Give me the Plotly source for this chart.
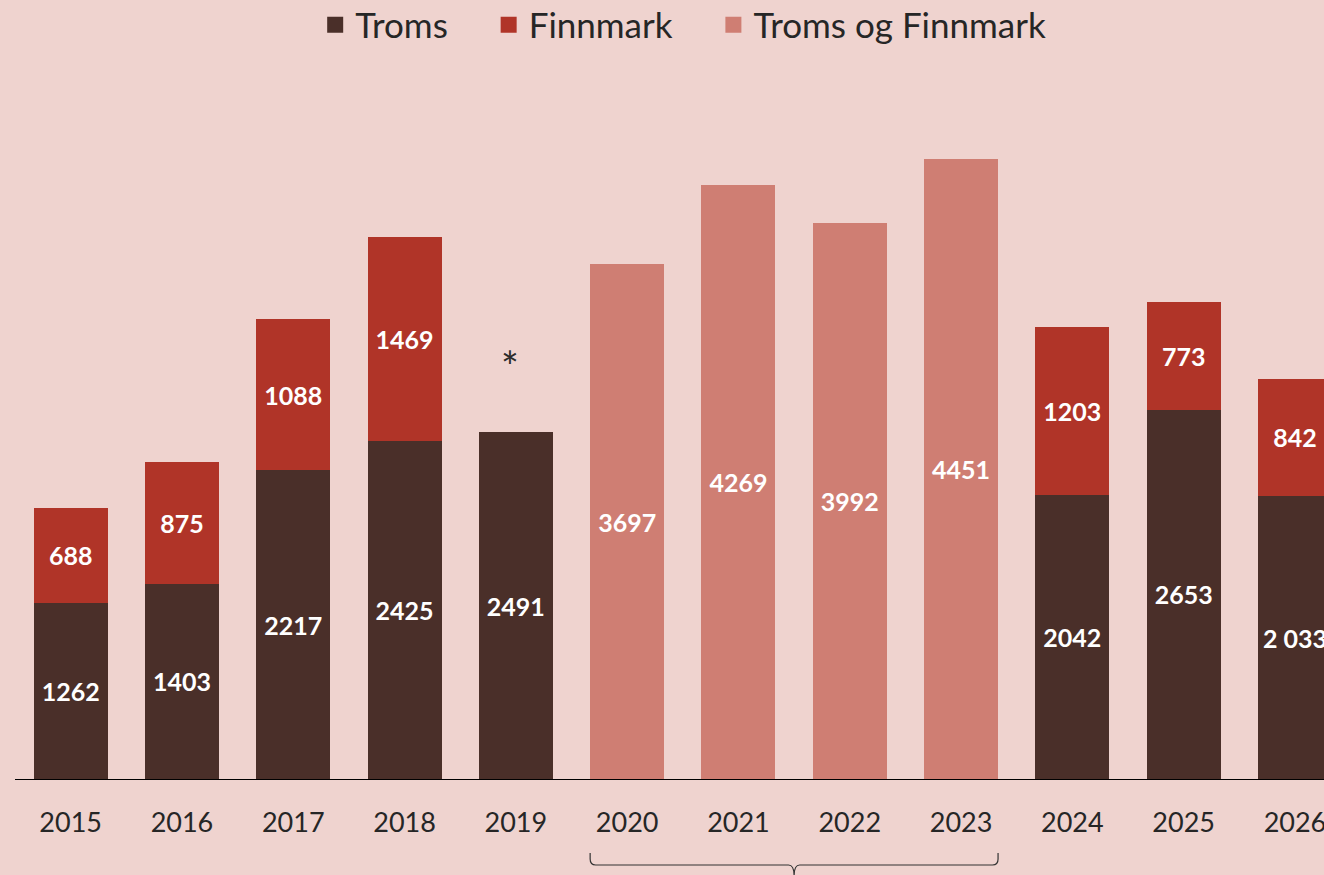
import plotly.graph_objects as go

years = ["2015", "2016", "2017", "2018", "2019", "2020", "2021", "2022", "2023", "2024", "2025", "2026"]
troms = [1262, 1403, 2217, 2425, 2491, None, None, None, None, 2042, 2653, 2033]
troms_labels = ["1262", "1403", "2217", "2425", "2491", "", "", "", "", "2042", "2653", "2 033"]
finnmark = [688, 875, 1088, 1469, None, None, None, None, None, 1203, 773, 842]
finnmark_labels = ["688", "875", "1088", "1469", "", "", "", "", "", "1203", "773", "842"]
combined = [None, None, None, None, None, 3697, 4269, 3992, 4451, None, None, None]
combined_labels = ["", "", "", "", "", "3697", "4269", "3992", "4451", "", "", ""]
series_names = ["Troms", "Finnmark", "Troms og Finnmark"]

C_TROMS = "#4A2F29"
C_FINN = "#B03428"
C_COMB = "#CF7E73"
BG = "#EFD3CF"
FONT = "Lato"

W, H = 1324, 875
ML, MR, MT, MB = 15, 0, 100, 96
px_per_unit = 0.1392
plot_h = H - MT - MB
ymax = plot_h / px_per_unit
cat_px = 111.3
xr0 = -0.5
xr1 = xr0 + (W - ML - MR) / cat_px

label_font = dict(family=FONT, size=25, color="white", weight="bold")

fig = go.Figure()
for vals, labels, color in [(troms, troms_labels, C_TROMS),
                            (finnmark, finnmark_labels, C_FINN),
                            (combined, combined_labels, C_COMB)]:
    fig.add_trace(go.Bar(
        x=years, y=vals, text=labels, marker=dict(color=color, line=dict(width=0)),
        textposition="inside", insidetextanchor="middle", textangle=0,
        textfont=label_font, showlegend=False, hoverinfo="skip",
    ))

# legend entries
pad = "&nbsp;" * 4
for name, color, extra in [(series_names[0], C_TROMS, pad),
                           (series_names[1], C_FINN, pad),
                           (series_names[2], C_COMB, "")]:
    fig.add_trace(go.Scatter(
        x=[None], y=[None], mode="markers", name=name + extra,
        marker=dict(symbol="square", size=16, color=color),
    ))

# asterisk over 2019
fig.add_annotation(x=4, y=troms[4], xref="x", yref="y", text="*",
                   showarrow=False, yanchor="middle", yshift=66, xshift=-6,
                   font=dict(family=FONT, size=42, color="#2b2b2b"))

# bracket under 2020-2023
half_bar = (1 - 0.335) / 2
bx0 = 5 - half_bar
bx1 = 8 + half_bar
bxc = (bx0 + bx1) / 2
def pty(pix):
    return (H - MB - pix) / plot_h
y_top, y_line, y_bot = pty(853), pty(865), pty(876)
dx = 0.05
dy = (y_top - y_line) * 0.5
path = (f"M {bx0},{y_top} L {bx0},{y_line + dy} Q {bx0},{y_line} {bx0 + dx},{y_line} "
        f"L {bxc - dx},{y_line} Q {bxc},{y_line} {bxc},{y_bot} "
        f"Q {bxc},{y_line} {bxc + dx},{y_line} L {bx1 - dx},{y_line} "
        f"Q {bx1},{y_line} {bx1},{y_line + dy} L {bx1},{y_top}")
fig.add_shape(type="path", xref="x", yref="paper", path=path,
              line=dict(color="#333333", width=1.2))

fig.update_layout(
    width=W, height=H,
    paper_bgcolor=BG, plot_bgcolor=BG,
    margin=dict(l=ML, r=MR, t=MT, b=MB, autoexpand=False),
    barmode="stack", bargap=0.335,
    font=dict(family=FONT, color="#262626"),
    showlegend=True,
    legend=dict(orientation="h", traceorder="normal", xref="container", yref="container",
                x=0.516, y=1 - 25 / H, xanchor="center", yanchor="middle",
                font=dict(family=FONT, size=35, color="#262626"),
                bgcolor="rgba(0,0,0,0)", itemclick=False, itemdoubleclick=False),
    xaxis=dict(type="category", range=[xr0, xr1], showgrid=False, zeroline=False,
               automargin=False,
               showline=True, linecolor="black", linewidth=1.2,
               ticks="outside", ticklen=19, tickcolor="rgba(0,0,0,0)",
               tickfont=dict(family=FONT, size=27, color="#262626")),
    yaxis=dict(range=[0, ymax], visible=False, showgrid=False, zeroline=False,
               automargin=False),
)

fig.write_html(
    "out.html",
    config={"displayModeBar": False},
    post_script=(
        "document.body.style.margin='0';"
        "document.body.style.padding='0';"
        "document.body.style.overflow='hidden';"
        f"document.body.style.background='{BG}';"
    ),
)
